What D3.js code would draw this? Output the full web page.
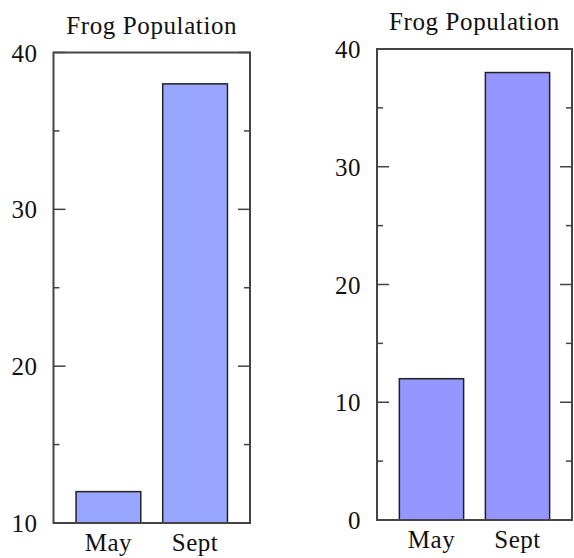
<!DOCTYPE html>
<html><head><meta charset="utf-8">
<script src="https://cdn.jsdelivr.net/npm/d3@7"></script>
<style>body{margin:0;background:#fff}svg{display:block}text{font-family:"Liberation Serif","Times New Roman",serif;fill:#111}</style>
</head><body>
<svg id="c" width="574" height="558"></svg>
<script>
const title = "Frog Population";
const categories = ["May", "Sept"];
const values = [12, 38];
const leftDomain = [10, 40];
const leftMajorTicks = [10, 20, 30, 40];
const leftMinorTicks = [15, 25, 35];
const rightDomain = [0, 40];
const rightMajorTicks = [0, 10, 20, 30, 40];
const rightMinorTicks = [5, 15, 25, 35];

const svg = d3.select("#c");

function panel(cfg) {
  const g = svg.append("g");
  const x = d3.scaleBand().domain(categories).range([cfg.x0, cfg.x1]).paddingInner(0.253).paddingOuter(0.26);
  const y = d3.scaleLinear().domain(cfg.domain).range([cfg.y1, cfg.y0]);
  g.selectAll("rect.bar").data(values).join("rect")
    .attr("x", (d, i) => x(categories[i]))
    .attr("width", x.bandwidth())
    .attr("y", d => y(d))
    .attr("height", d => y(cfg.domain[0]) - y(d))
    .attr("fill", cfg.color).attr("stroke", "#222").attr("stroke-width", 1.5);
  const tickG = g.append("g").attr("stroke", "#444").attr("stroke-width", 1.5);
  cfg.major.forEach(t => {
    tickG.append("line").attr("x1", cfg.x0).attr("x2", cfg.x0 + 12).attr("y1", y(t)).attr("y2", y(t));
    tickG.append("line").attr("x1", cfg.x1).attr("x2", cfg.x1 - 12).attr("y1", y(t)).attr("y2", y(t));
  });
  cfg.minor.forEach(t => {
    tickG.append("line").attr("x1", cfg.x0).attr("x2", cfg.x0 + 6).attr("y1", y(t)).attr("y2", y(t));
    tickG.append("line").attr("x1", cfg.x1).attr("x2", cfg.x1 - 6).attr("y1", y(t)).attr("y2", y(t));
  });
  g.append("rect").attr("x", cfg.x0).attr("y", cfg.y0).attr("width", cfg.x1 - cfg.x0).attr("height", cfg.y1 - cfg.y0)
    .attr("fill", "none").attr("stroke", "#444").attr("stroke-width", 2);
  g.selectAll("text.yl").data(cfg.major).join("text")
    .attr("x", cfg.x0 - 16).attr("y", d => y(d) + 9)
    .attr("text-anchor", "end").attr("font-size", 25).attr("letter-spacing", 0.5).text(d => d);
  g.selectAll("text.xl").data(categories).join("text")
    .attr("x", d => x(d) + x.bandwidth() / 2).attr("y", cfg.y1 + 28)
    .attr("text-anchor", "middle").attr("font-size", 25).attr("letter-spacing", 0.5).text(d => d);
  g.append("text").attr("x", (cfg.x0 + cfg.x1) / 2).attr("y", cfg.y0 - 19)
    .attr("text-anchor", "middle").attr("font-size", 25).attr("letter-spacing", 0.6).text(title);
}

panel({x0: 53.5, x1: 250, y0: 52.5, y1: 523, domain: leftDomain, major: leftMajorTicks, minor: leftMinorTicks, color: "#99a6ff"});
panel({x0: 377, x1: 572, y0: 49, y1: 520, domain: rightDomain, major: rightMajorTicks, minor: rightMinorTicks, color: "#9696ff"});
</script>
</body></html>
